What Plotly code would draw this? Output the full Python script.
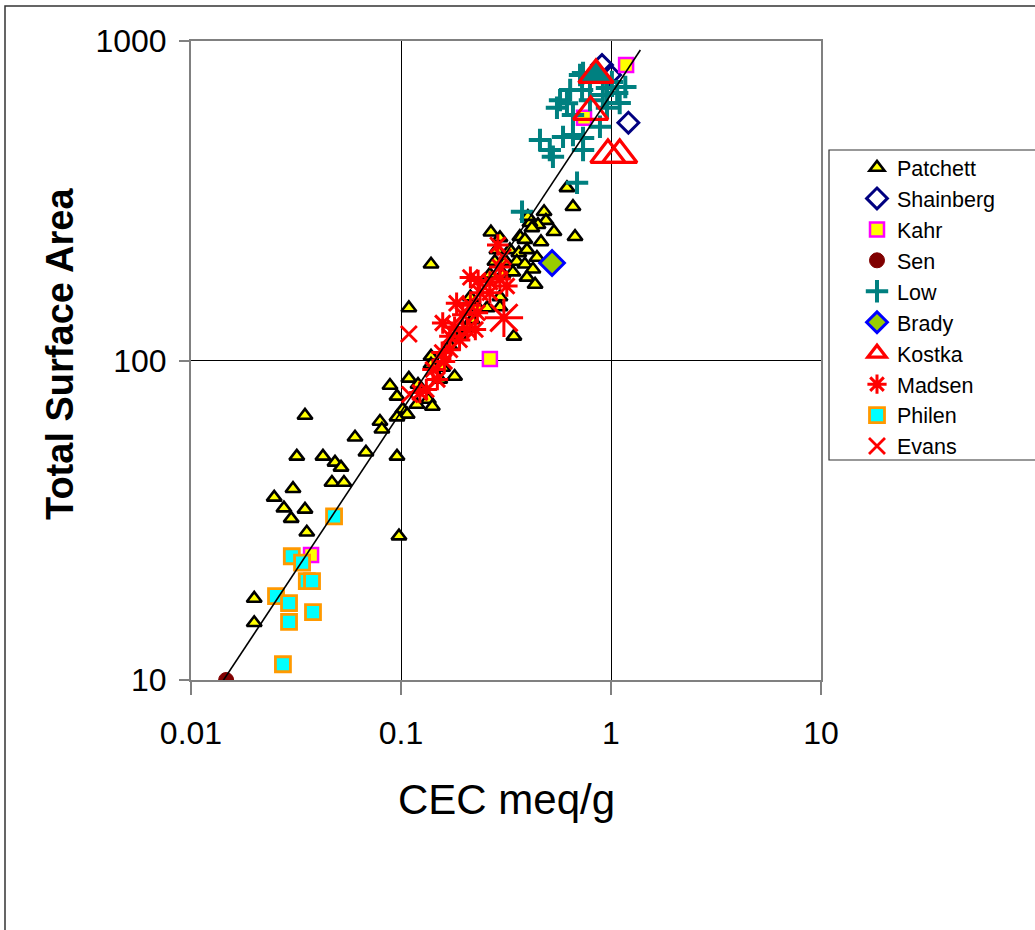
import plotly.graph_objects as go

# ---------------- data ----------------
PATCHETT_X = [0.020, 0.020, 0.0249, 0.0277, 0.030, 0.0306, 0.0319, 0.0349, 0.0356, 0.0349, 0.0425, 0.0469, 0.0485,
              0.0518, 0.0535, 0.0604, 0.0681, 0.0794, 0.0811, 0.0957, 0.0978,
              0.0886, 0.0957, 0.109, 0.1205, 0.102, 0.107, 0.0957, 0.119, 0.139, 0.139, 0.158, 0.180, 0.153, 0.135, 0.141,
              0.214, 0.231, 0.218, 0.207, 0.190, 0.171, 0.257, 0.296, 0.296, 0.345,
              0.617, 0.659, 0.674, 0.480, 0.490, 0.535, 0.449, 0.411, 0.420, 0.402,
              0.368, 0.389, 0.464, 0.330, 0.364, 0.398, 0.444, 0.268, 0.296, 0.286,
              0.280, 0.316, 0.356, 0.389, 0.425, 0.306, 0.341, 0.398, 0.435, 0.265,
              0.139, 0.109]
PATCHETT_Y = [18.0, 15.1, 37.3, 34.5, 32.0, 39.7, 50.1, 34.2, 29.0, 67.3, 50.1, 41.5, 48.0,
              46.3, 41.5, 57.5, 51.6, 64.4, 60.9, 50.1, 28.2,
              83.5, 77.2, 87.9, 84.1, 70.3, 67.8, 66.5, 72.8, 103, 97.2, 95.1, 89.1, 87.2, 75.5, 71.8,
              158, 147, 134, 127, 119, 111, 146, 158, 147, 119,
              347, 303, 244, 292, 274, 253, 266, 270, 260, 282,
              244, 239, 235, 222, 217, 222, 210, 252, 242, 222,
              204, 204, 204, 200, 193, 186, 189, 182, 173, 186,
              200, 146]

SHAINBERG_X = [0.906, 0.99, 1.21]
SHAINBERG_Y = [841, 783, 555]

KAHR_X = [1.18, 0.744, 0.265, 0.0373]
KAHR_Y = [841, 575, 101, 24.6]

SEN_X = [0.0147]
SEN_Y = [10]

LOW_X = [0.712, 0.794, 0.728, 0.639, 1.01, 0.957, 1.07, 1.17, 0.572, 0.617, 0.553, 0.957, 1.10, 0.886,
         0.591, 0.659, 0.736, 0.459, 0.511, 0.529, 0.736, 0.689, 0.377, 0.794, 0.915, 0.659, 0.736]
LOW_Y = [783, 744, 703, 703, 744, 713, 688, 718, 653, 639, 618, 618, 640, 539,
         501, 508, 497, 490, 456, 434, 456, 360, 292, 653, 678, 587, 794]

BRADY_X = [0.524]
BRADY_Y = [202]

KOSTKA_X = [0.80, 0.967, 1.10, 0.848]
KOSTKA_Y = [600, 440, 440, 783]

MADSEN_X = [0.289, 0.214, 0.233, 0.265, 0.296, 0.319, 0.265, 0.238, 0.184, 0.214,
            0.231, 0.158, 0.180, 0.207, 0.226, 0.171, 0.190, 0.157, 0.171, 0.161,
            0.142, 0.149, 0.132, 0.123, 0.197, 0.296, 0.309]
MADSEN_Y = [230, 182, 178, 176, 180, 171, 163, 163, 151, 149,
            141, 131, 127, 125, 125, 119, 116, 106, 108, 99.3,
            93.7, 87.2, 81.1, 79.4, 139, 196, 136]

PHILEN_X = [0.048, 0.0302, 0.0338, 0.0356, 0.0377, 0.0254, 0.0293, 0.0293, 0.0381, 0.0274]
PHILEN_Y = [32.5, 24.4, 23.3, 20.4, 20.4, 18.3, 17.4, 15.2, 16.3, 11.2]

EVANS_X = [0.109, 0.110, 0.306]
EVANS_Y = [121, 78.3, 211]

FIT_X = [0.014, 1.38]
FIT_Y = [9.8, 937]

X_TICKS = [0.01, 0.1, 1, 10]
X_TICK_TEXT = ["0.01", "0.1", "1", "10"]
Y_TICKS = [10, 100, 1000]
Y_TICK_TEXT = ["10", "100", "1000"]

# ---------------- figure ----------------
FONT = "Liberation Sans, Arial, sans-serif"
W, H = 1035, 930
L, R, T, B = 191, 821, 41, 680


def px_x(p):
    return (p - L) / (R - L)


def px_y(p):
    return (B - p) / (B - T)


fig = go.Figure()

fig.add_trace(go.Scatter(
    x=PATCHETT_X, y=PATCHETT_Y, mode="markers", name="Patchett", legendgroup="a",
    marker=dict(symbol="triangle-up", size=13, color="#FFFF00", opacity=1, line=dict(color="black", width=2.6))))
fig.add_trace(go.Scatter(
    x=SHAINBERG_X, y=SHAINBERG_Y, mode="markers", name="Shainberg", legendgroup="b",
    marker=dict(symbol="diamond-open", size=16, color="#000080", opacity=1, line=dict(color="#000080", width=3))))
fig.add_trace(go.Scatter(
    x=KAHR_X, y=KAHR_Y, mode="markers", name="Kahr", legendgroup="c",
    marker=dict(symbol="square", size=14, color="#FFFF00", opacity=1, line=dict(color="#FF00FF", width=2.5))))
fig.add_trace(go.Scatter(
    x=SEN_X, y=SEN_Y, mode="markers", name="Sen", legendgroup="d",
    marker=dict(symbol="circle", size=15, color="#800000", opacity=1, line=dict(color="#800000", width=1))))
fig.add_trace(go.Scatter(
    x=LOW_X, y=LOW_Y, mode="markers", name="Low", legendgroup="e",
    marker=dict(symbol="cross-thin-open", size=16, color="#008080", opacity=1, line=dict(color="#008080", width=4))))
fig.add_trace(go.Scatter(
    x=BRADY_X, y=BRADY_Y, mode="markers", name="Brady", legendgroup="f",
    marker=dict(symbol="diamond", size=19, color="#99CC00", opacity=1, line=dict(color="#0000FF", width=3))))
kostka_fill = ["rgba(0,0,0,0)"] * (len(KOSTKA_X) - 1) + ["#008080"]
fig.add_trace(go.Scatter(
    x=KOSTKA_X, y=KOSTKA_Y, mode="markers", name="Kostka", legendgroup="g",
    marker=dict(symbol="triangle-up", size=30, color=kostka_fill, opacity=1, line=dict(color="#FF0000", width=3.2))))
madsen_size = [18] * (len(MADSEN_X) - 1) + [32]
fig.add_trace(go.Scatter(
    x=MADSEN_X, y=MADSEN_Y, mode="markers", name="Madsen", legendgroup="h",
    marker=dict(symbol="asterisk-open", size=madsen_size, color="#FF0000", opacity=1,
                line=dict(color="#FF0000", width=3))))
fig.add_trace(go.Scatter(
    x=PHILEN_X, y=PHILEN_Y, mode="markers", name="Philen", legendgroup="i",
    marker=dict(symbol="square", size=15, color="#00FFFF", opacity=1, line=dict(color="#FF9900", width=2.8))))
fig.add_trace(go.Scatter(
    x=EVANS_X, y=EVANS_Y, mode="markers", name="Evans", legendgroup="j",
    marker=dict(symbol="x-thin-open", size=16, color="#FF0000", opacity=1, line=dict(color="#FF0000", width=2.8))))
fig.add_trace(go.Scatter(
    x=FIT_X, y=FIT_Y, mode="lines", showlegend=False, hoverinfo="skip",
    line=dict(color="black", width=1.6)))

axis_common = dict(
    type="log", showline=True, mirror=True, linecolor="#808080", linewidth=2,
    showgrid=True, gridcolor="black", gridwidth=1, zeroline=False,
    ticks="outside", tickcolor="#808080", tickwidth=1.5,
    tickfont=dict(family=FONT, size=32, color="black"),
)

fig.update_layout(
    width=W, height=H,
    margin=dict(l=L, r=W - R, t=T, b=H - B, pad=0),
    paper_bgcolor="white", plot_bgcolor="white",
    font=dict(family=FONT, color="black"),
    xaxis=dict(axis_common, range=[-2, 1], tickmode="array", tickvals=X_TICKS, ticktext=X_TICK_TEXT,
               ticklen=13, ticklabelstandoff=11),
    yaxis=dict(axis_common, range=[1, 3], tickmode="array", tickvals=Y_TICKS, ticktext=Y_TICK_TEXT,
               ticklen=10, ticklabelstandoff=6),
    legend=dict(x=px_x(857), y=px_y(147), xanchor="left", yanchor="top",
                bgcolor="rgba(0,0,0,0)", borderwidth=0,
                font=dict(family=FONT, size=21.5, color="black"),
                tracegroupgap=0, itemsizing="trace"),
    showlegend=True,
    annotations=[
        dict(text="CEC meq/g", xref="paper", yref="paper", x=0.5, y=px_y(799),
             xanchor="center", yanchor="middle", showarrow=False,
             font=dict(family=FONT, size=42, color="black")),
        dict(text="<b>Total Surface Area</b>", xref="paper", yref="paper", x=px_x(60), y=px_y(354),
             xanchor="center", yanchor="middle", showarrow=False, textangle=-90,
             font=dict(family=FONT, size=38, color="black")),
    ],
    shapes=[
        dict(type="rect", xref="paper", yref="paper", x0=px_x(829), x1=px_x(1045), y0=px_y(460), y1=px_y(150),
             line=dict(color="#333333", width=1.2), fillcolor="rgba(0,0,0,0)"),
        dict(type="rect", xref="paper", yref="paper", x0=px_x(5), x1=px_x(1050), y0=px_y(950), y1=px_y(6),
             line=dict(color="#333333", width=1.5), fillcolor="rgba(0,0,0,0)"),
    ],
)

fig.write_html("out.html", config={"displayModeBar": False},
               post_script="document.body.style.margin='0';document.body.style.overflow='hidden';")
